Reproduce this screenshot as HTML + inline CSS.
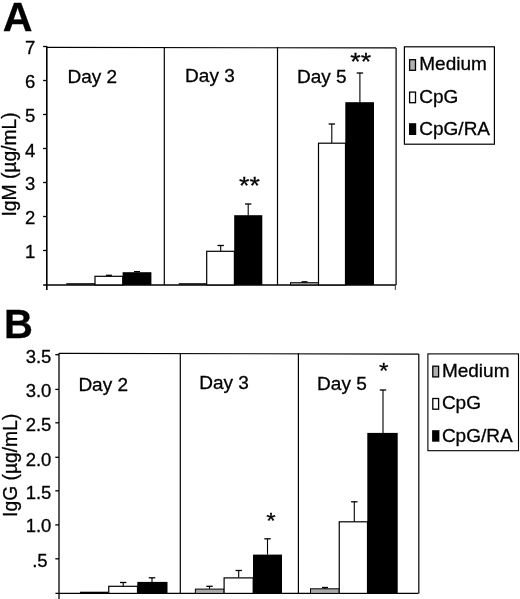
<!DOCTYPE html>
<html><head><meta charset="utf-8"><title>Figure</title>
<style>
html,body{margin:0;padding:0;background:#fff;}
svg{display:block;}
text{font-family:"Liberation Sans",Arial,sans-serif;fill:#000;stroke:#000;stroke-width:0.3px;}
</style></head><body>
<svg width="520" height="599" viewBox="0 0 520 599">
<rect width="520" height="599" fill="#fff"/>

<text x="2.7" y="30.7" font-size="41.2" font-weight="bold">A</text>
<line x1="46.8" y1="46.2" x2="46.8" y2="289.9" stroke="#000" stroke-width="1.6"/>
<line x1="43.199999999999996" y1="284.9" x2="396.1" y2="284.9" stroke="#000" stroke-width="1.5"/>
<line x1="46.8" y1="47.4" x2="396.1" y2="47.9" stroke="#000" stroke-width="1.1"/>
<line x1="396.1" y1="47.9" x2="396.1" y2="284.9" stroke="#111" stroke-width="1.3"/>
<line x1="395.3" y1="284.9" x2="395.3" y2="289.9" stroke="#333" stroke-width="1.0"/>
<line x1="164.3" y1="47.1" x2="164.3" y2="284.9" stroke="#000" stroke-width="1.2"/>
<line x1="277.5" y1="47.1" x2="277.5" y2="284.9" stroke="#000" stroke-width="1.2"/>
<line x1="43.099999999999994" y1="250.5" x2="46.8" y2="250.5" stroke="#000" stroke-width="1.3"/>
<text x="35.3" y="257.9" font-size="18.5" text-anchor="end" >1</text>
<line x1="43.099999999999994" y1="216.5" x2="46.8" y2="216.5" stroke="#000" stroke-width="1.3"/>
<text x="35.3" y="224.4" font-size="18.5" text-anchor="end" >2</text>
<line x1="43.099999999999994" y1="182.5" x2="46.8" y2="182.5" stroke="#000" stroke-width="1.3"/>
<text x="35.3" y="190.4" font-size="18.5" text-anchor="end" >3</text>
<line x1="43.099999999999994" y1="148.5" x2="46.8" y2="148.5" stroke="#000" stroke-width="1.3"/>
<text x="35.3" y="157.1" font-size="18.5" text-anchor="end" >4</text>
<line x1="43.099999999999994" y1="114.5" x2="46.8" y2="114.5" stroke="#000" stroke-width="1.3"/>
<text x="35.3" y="121.9" font-size="18.5" text-anchor="end" >5</text>
<line x1="43.099999999999994" y1="80.5" x2="46.8" y2="80.5" stroke="#000" stroke-width="1.3"/>
<text x="35.3" y="87.9" font-size="18.5" text-anchor="end" >6</text>
<line x1="43.099999999999994" y1="46.5" x2="46.8" y2="46.5" stroke="#000" stroke-width="1.3"/>
<text x="35.3" y="53.9" font-size="18.5" text-anchor="end" >7</text>
<text x="16.4" y="164.4" font-size="19.3" text-anchor="middle" transform="rotate(-90 16.4 164.4)">IgM (µg/mL)</text>
<text x="67.5" y="82.6" font-size="19" text-anchor="start" >Day 2</text>
<text x="185.1" y="82.2" font-size="19" text-anchor="start" >Day 3</text>
<text x="297.0" y="82.6" font-size="19" text-anchor="start" >Day 5</text>
<line x1="66.25" y1="283.9" x2="95" y2="283.9" stroke="#000" stroke-width="1.4"/>
<rect x="95" y="276.3" width="27.80" height="8.60" fill="#fff" stroke="#000" stroke-width="1.2"/>
<rect x="122.60" y="272.20" width="28.80" height="12.70" fill="#000"/>
<line x1="108.9" y1="275.3" x2="108.9" y2="276.3" stroke="#000" stroke-width="1.1"/>
<line x1="105.9" y1="275.3" x2="111.9" y2="275.3" stroke="#000" stroke-width="1.3"/>
<line x1="137" y1="271.6" x2="137" y2="272.6" stroke="#000" stroke-width="1.1"/>
<line x1="134" y1="271.6" x2="140" y2="271.6" stroke="#000" stroke-width="1.3"/>
<line x1="178.75" y1="283.9" x2="206.7" y2="283.9" stroke="#000" stroke-width="1.4"/>
<rect x="206.7" y="251.3" width="27.70" height="33.60" fill="#fff" stroke="#000" stroke-width="1.2"/>
<rect x="234.20" y="215.20" width="28.10" height="69.70" fill="#000"/>
<line x1="220.7" y1="245.5" x2="220.7" y2="251.3" stroke="#000" stroke-width="1.1"/>
<line x1="217.5" y1="245.5" x2="223.89999999999998" y2="245.5" stroke="#000" stroke-width="1.3"/>
<line x1="248.2" y1="204" x2="248.2" y2="215.6" stroke="#000" stroke-width="1.1"/>
<line x1="245.0" y1="204" x2="251.39999999999998" y2="204" stroke="#000" stroke-width="1.3"/>
<text transform="translate(249.5 194.0) scale(0.99 0.9)" font-size="27" text-anchor="middle" stroke="#000" stroke-width="0.35">**</text>
<rect x="290.5" y="282.7" width="28.00" height="2.20" fill="#b0b0b0" stroke="#000" stroke-width="1"/>
<line x1="304.5" y1="281.8" x2="304.5" y2="282.6" stroke="#000" stroke-width="1.1"/>
<line x1="301.5" y1="281.8" x2="307.5" y2="281.8" stroke="#000" stroke-width="1.3"/>
<rect x="318.5" y="143.2" width="27.00" height="141.70" fill="#fff" stroke="#000" stroke-width="1.2"/>
<rect x="345.30" y="102.20" width="28.70" height="182.70" fill="#000"/>
<line x1="331.8" y1="124" x2="331.8" y2="143.2" stroke="#000" stroke-width="1.1"/>
<line x1="328.6" y1="124" x2="335.0" y2="124" stroke="#000" stroke-width="1.3"/>
<line x1="359.9" y1="73" x2="359.9" y2="102.6" stroke="#000" stroke-width="1.1"/>
<line x1="356.7" y1="73" x2="363.09999999999997" y2="73" stroke="#000" stroke-width="1.3"/>
<text transform="translate(360.7 69.7) scale(0.99 0.9)" font-size="27" text-anchor="middle" stroke="#000" stroke-width="0.35">**</text>
<rect x="404.4" y="46.8" width="90" height="97.4" fill="#fff" stroke="#000" stroke-width="1.2"/>
<rect x="409.6" y="59.7" width="5.90" height="10.60" fill="#b0b0b0" stroke="#000" stroke-width="1.3"/>
<rect x="409.6" y="92.1" width="5.90" height="10.60" fill="#fff" stroke="#000" stroke-width="1.3"/>
<rect x="409.00" y="123.20" width="7.20" height="11.80" fill="#000"/>
<text x="419.3" y="70.2" font-size="19" text-anchor="start" >Medium</text>
<text x="419.3" y="102.6" font-size="19" text-anchor="start" >CpG</text>
<text x="419.3" y="134.7" font-size="19" text-anchor="start" >CpG/RA</text>
<text x="4.0" y="337.8" font-size="40" font-weight="bold">B</text>
<line x1="59.0" y1="352.9" x2="59.0" y2="599" stroke="#000" stroke-width="1.3"/>
<line x1="55.4" y1="593.4" x2="418.5" y2="593.4" stroke="#000" stroke-width="1.25"/>
<line x1="59.0" y1="353.4" x2="418.8" y2="354.09999999999997" stroke="#000" stroke-width="1.15"/>
<line x1="418.8" y1="354.09999999999997" x2="418.8" y2="593.4" stroke="#111" stroke-width="1.3"/>
<line x1="180.3" y1="353.4" x2="180.3" y2="593.4" stroke="#000" stroke-width="1.2"/>
<line x1="298.4" y1="353.4" x2="298.4" y2="593.4" stroke="#000" stroke-width="1.2"/>
<line x1="55.3" y1="558.8" x2="59.0" y2="558.8" stroke="#000" stroke-width="1.3"/>
<text x="47.6" y="567.0999999999999" font-size="18.5" text-anchor="end" >.5</text>
<line x1="55.3" y1="524.9" x2="59.0" y2="524.9" stroke="#000" stroke-width="1.3"/>
<text x="51.4" y="532.3" font-size="18.5" text-anchor="end" >1.0</text>
<line x1="55.3" y1="490.8" x2="59.0" y2="490.8" stroke="#000" stroke-width="1.3"/>
<text x="51.4" y="499.0" font-size="18.5" text-anchor="end" >1.5</text>
<line x1="55.3" y1="457.3" x2="59.0" y2="457.3" stroke="#000" stroke-width="1.3"/>
<text x="51.4" y="465.5" font-size="18.5" text-anchor="end" >2.0</text>
<line x1="55.3" y1="422.8" x2="59.0" y2="422.8" stroke="#000" stroke-width="1.3"/>
<text x="51.4" y="430.9" font-size="18.5" text-anchor="end" >2.5</text>
<line x1="55.3" y1="389.4" x2="59.0" y2="389.4" stroke="#000" stroke-width="1.3"/>
<text x="51.4" y="396.79999999999995" font-size="18.5" text-anchor="end" >3.0</text>
<line x1="55.3" y1="354.7" x2="59.0" y2="354.7" stroke="#000" stroke-width="1.3"/>
<text x="51.4" y="362.59999999999997" font-size="18.5" text-anchor="end" >3.5</text>
<text x="16.6" y="465.3" font-size="19.3" text-anchor="middle" transform="rotate(-90 16.6 465.3)">IgG (µg/mL)</text>
<text x="78.4" y="390.8" font-size="19" text-anchor="start" >Day 2</text>
<text x="199.2" y="388.5" font-size="19" text-anchor="start" >Day 3</text>
<text x="317.1" y="389.5" font-size="19" text-anchor="start" >Day 5</text>
<line x1="80" y1="592.4" x2="108.75" y2="592.4" stroke="#000" stroke-width="1.4"/>
<rect x="108.75" y="586.3" width="28.75" height="7.10" fill="#fff" stroke="#000" stroke-width="1.2"/>
<rect x="137.30" y="581.90" width="30.20" height="11.50" fill="#000"/>
<line x1="123.2" y1="582.5" x2="123.2" y2="586.3" stroke="#000" stroke-width="1.1"/>
<line x1="120.0" y1="582.5" x2="126.4" y2="582.5" stroke="#000" stroke-width="1.3"/>
<line x1="152" y1="577.8" x2="152" y2="582.1" stroke="#000" stroke-width="1.1"/>
<line x1="148.8" y1="577.8" x2="155.2" y2="577.8" stroke="#000" stroke-width="1.3"/>
<rect x="195.4" y="589.1" width="28.70" height="4.30" fill="#aaa" stroke="#000" stroke-width="1"/>
<rect x="224.1" y="577.9" width="29.10" height="15.50" fill="#fff" stroke="#000" stroke-width="1.2"/>
<rect x="253.00" y="554.60" width="29.00" height="38.80" fill="#000"/>
<line x1="209.5" y1="586.3" x2="209.5" y2="588.8" stroke="#000" stroke-width="1.1"/>
<line x1="206.3" y1="586.3" x2="212.7" y2="586.3" stroke="#000" stroke-width="1.3"/>
<line x1="238.7" y1="570.5" x2="238.7" y2="577.6" stroke="#000" stroke-width="1.1"/>
<line x1="235.5" y1="570.5" x2="241.89999999999998" y2="570.5" stroke="#000" stroke-width="1.3"/>
<line x1="267.5" y1="538.8" x2="267.5" y2="554.6" stroke="#000" stroke-width="1.1"/>
<line x1="264.3" y1="538.8" x2="270.7" y2="538.8" stroke="#000" stroke-width="1.3"/>
<text transform="translate(270.9 527.8) scale(0.99 0.9)" font-size="24.5" text-anchor="middle" stroke="#000" stroke-width="0.35">*</text>
<rect x="310.5" y="588.8" width="28.75" height="4.60" fill="#aaa" stroke="#000" stroke-width="1"/>
<rect x="339.25" y="521.8" width="28.25" height="71.60" fill="#fff" stroke="#000" stroke-width="1.2"/>
<rect x="367.30" y="432.90" width="30.40" height="160.50" fill="#000"/>
<line x1="325" y1="587.5" x2="325" y2="588.8" stroke="#000" stroke-width="1.1"/>
<line x1="322" y1="587.5" x2="328" y2="587.5" stroke="#000" stroke-width="1.3"/>
<line x1="354.3" y1="501.8" x2="354.3" y2="521.8" stroke="#000" stroke-width="1.1"/>
<line x1="351.1" y1="501.8" x2="357.5" y2="501.8" stroke="#000" stroke-width="1.3"/>
<line x1="383" y1="390.0" x2="383" y2="433.3" stroke="#000" stroke-width="1.1"/>
<line x1="379.8" y1="390.0" x2="386.2" y2="390.0" stroke="#000" stroke-width="1.3"/>
<text transform="translate(383.6 377.6) scale(0.99 0.9)" font-size="24.5" text-anchor="middle" stroke="#000" stroke-width="0.35">*</text>
<rect x="427.9" y="353.9" width="90.6" height="96.8" fill="#fff" stroke="#000" stroke-width="1.1"/>
<rect x="432.8" y="366.2" width="5.80" height="10.70" fill="#b0b0b0" stroke="#000" stroke-width="1.3"/>
<rect x="432.8" y="398.5" width="5.80" height="10.70" fill="#fff" stroke="#000" stroke-width="1.3"/>
<rect x="432.10" y="430.20" width="7.30" height="11.50" fill="#000"/>
<text x="441.9" y="376.5" font-size="19" text-anchor="start" >Medium</text>
<text x="441.9" y="408.5" font-size="19" text-anchor="start" >CpG</text>
<text x="441.9" y="441.6" font-size="19" text-anchor="start" >CpG/RA</text>
</svg></body></html>
